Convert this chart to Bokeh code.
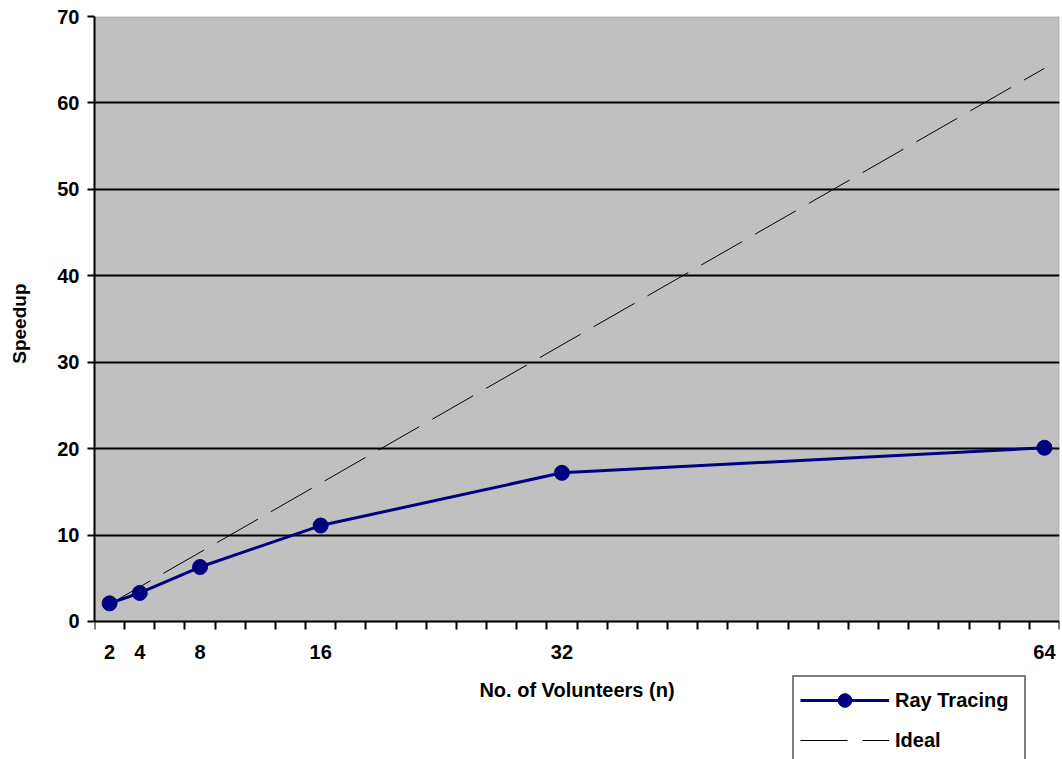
from bokeh.plotting import figure
from bokeh.models import FixedTicker, Range1d, Legend, LegendItem, BoxAnnotation, Title
from bokeh.embed import file_html
from bokeh.resources import INLINE

# ---- data ----
volunteers = [2, 4, 8, 16, 32, 64]
ray_tracing = [2.1, 3.3, 6.3, 11.1, 17.2, 20.1]
ideal = [2, 4, 8, 16, 32, 64]
x_tick_labels = [2, 4, 8, 16, 32, 64]
x_minor_ticks = list(range(1, 66, 2))
y_ticks = [0, 10, 20, 30, 40, 50, 60, 70]
grid_ticks = [10, 20, 30, 40, 50, 60]
x_min, x_max = 1, 65
y_min, y_max = 0, 70
y_view_min = -15.97  # space below the plot area for axis titles and legend

FONT = "Liberation Sans"

p = figure(
    output_backend="svg", toolbar_location=None,
    frame_width=965, frame_height=743,
    min_border_left=94, min_border_right=3, min_border_top=16, min_border_bottom=0,
    x_range=Range1d(x_min, x_max), y_range=Range1d(y_view_min, y_max),
    background_fill_color="white", border_fill_color="white",
)
p.outline_line_color = None

# plot area (gray)
area = BoxAnnotation(left=x_min, right=x_max, bottom=y_min, top=y_max,
                     fill_color="#C0C0C0", fill_alpha=1,
                     line_color="#808080", line_width=2, level="image")
p.add_layout(area)

# grid
p.xgrid.visible = False
p.ygrid.ticker = FixedTicker(ticks=grid_ticks)
p.ygrid.grid_line_color = "black"
p.ygrid.grid_line_width = 2

# y axis
ya = p.yaxis[0]
ya.ticker = FixedTicker(ticks=y_ticks)
ya.bounds = (y_min, y_max)
ya.axis_line_color = "black"
ya.axis_line_width = 2
ya.major_tick_out = 7
ya.major_tick_in = 0
ya.major_tick_line_width = 2
ya.minor_tick_out = 0
ya.minor_tick_in = 0
ya.major_label_text_font = FONT
ya.major_label_text_font_style = "bold"
ya.major_label_text_font_size = "20px"
ya.major_label_text_color = "black"
ya.major_label_standoff = 8
# blank label only reserves room between tick labels and the title
ya.axis_label = " "
ya.axis_label_text_font_size = "1px"
ya.axis_label_standoff = 21

# y axis title, placed alongside the plot area (not the whole frame)
ytitle = Title(text="Speedup", align="right", offset=267, standoff=0,
               text_font=FONT, text_font_style="bold", text_font_size="19px",
               text_color="black")
p.add_layout(ytitle, "left")

# x axis (drawn at y = 0)
xa = p.xaxis[0]
xa.fixed_location = 0
xa.ticker = FixedTicker(ticks=x_tick_labels, minor_ticks=x_minor_ticks)
xa.axis_line_color = "black"
xa.axis_line_width = 2
xa.major_tick_out = 0
xa.major_tick_in = 0
xa.minor_tick_out = 8
xa.minor_tick_in = 0
xa.minor_tick_line_color = "black"
xa.minor_tick_line_width = 2
xa.major_label_text_font = FONT
xa.major_label_text_font_style = "bold"
xa.major_label_text_font_size = "20px"
xa.major_label_text_color = "black"
xa.major_label_standoff = 16
xa.axis_label = "No. of Volunteers (n)"
xa.axis_label_text_font = FONT
xa.axis_label_text_font_style = "bold"
xa.axis_label_text_font_size = "20px"
xa.axis_label_text_color = "black"
xa.axis_label_standoff = 16

# series
r_ideal = p.line(volunteers, ideal, line_color="black", line_width=1, line_dash="47 15")
r_line = p.line(volunteers, ray_tracing, line_color="#000080", line_width=3)
r_pts = p.scatter(volunteers, ray_tracing, size=15, fill_color="#000080", line_color="#000080")

legend = Legend(
    items=[
        LegendItem(label="Ray Tracing", renderers=[r_line, r_pts]),
        LegendItem(label="Ideal", renderers=[r_ideal]),
    ],
    location=(698, -6),
    orientation="vertical",
    border_line_color="black", border_line_width=2,
    background_fill_color="white", background_fill_alpha=1,
    label_text_font=FONT, label_text_font_style="bold", label_text_font_size="20px",
    label_text_color="black",
    glyph_width=89, glyph_height=34, label_height=20, label_width=123,
    spacing=6, padding=6, margin=0, label_standoff=6,
)
p.add_layout(legend, "center")

open("out.html", "w").write(file_html(p, INLINE))
